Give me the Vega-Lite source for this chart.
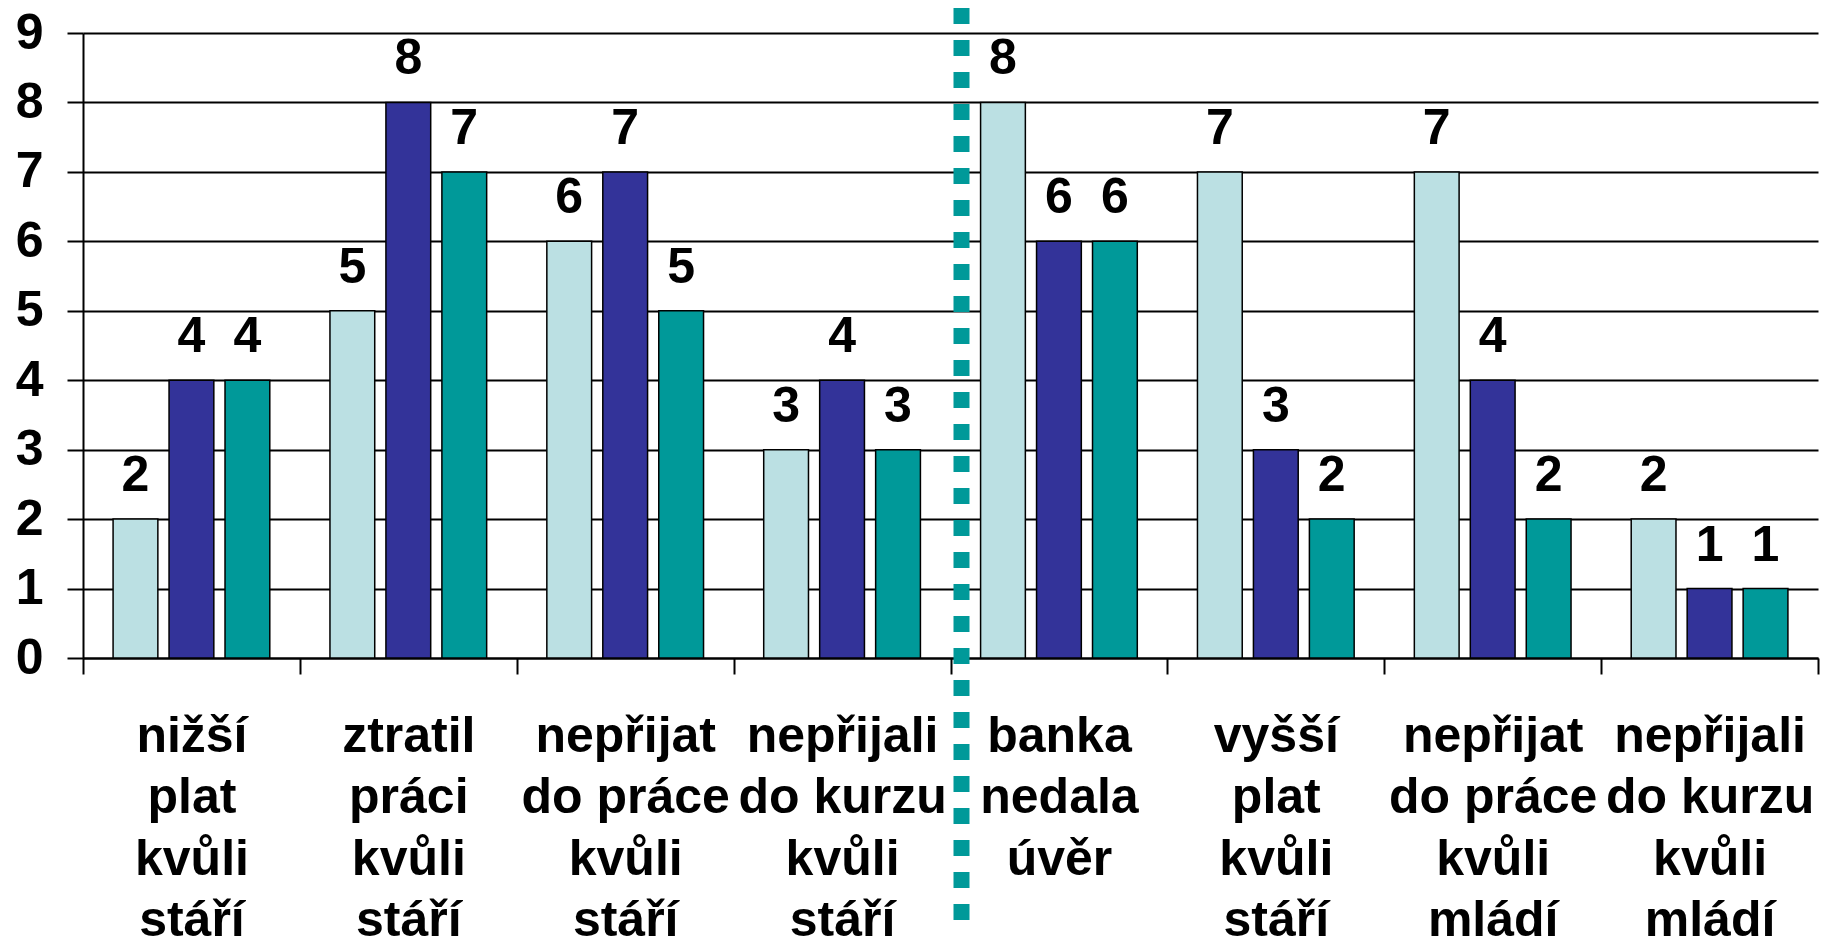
{
  "$schema": "https://vega.github.io/schema/vega-lite/v6.json",
  "width": 1735,
  "height": 625,
  "autosize": "none",
  "padding": {"left": 83, "top": 33, "right": 18, "bottom": 280},
  "background": "white",
  "config": {"view": {"stroke": null}, "font": "Liberation Sans"},
  "datasets": {
    "bars": [
      {"kategorie": "nižší|plat|kvůli|stáří", "skupina": "1", "pocet": 2},
      {"kategorie": "nižší|plat|kvůli|stáří", "skupina": "2", "pocet": 4},
      {"kategorie": "nižší|plat|kvůli|stáří", "skupina": "3", "pocet": 4},
      {"kategorie": "ztratil|práci|kvůli|stáří", "skupina": "1", "pocet": 5},
      {"kategorie": "ztratil|práci|kvůli|stáří", "skupina": "2", "pocet": 8},
      {"kategorie": "ztratil|práci|kvůli|stáří", "skupina": "3", "pocet": 7},
      {"kategorie": "nepřijat|do práce|kvůli|stáří", "skupina": "1", "pocet": 6},
      {"kategorie": "nepřijat|do práce|kvůli|stáří", "skupina": "2", "pocet": 7},
      {"kategorie": "nepřijat|do práce|kvůli|stáří", "skupina": "3", "pocet": 5},
      {"kategorie": "nepřijali|do kurzu|kvůli|stáří", "skupina": "1", "pocet": 3},
      {"kategorie": "nepřijali|do kurzu|kvůli|stáří", "skupina": "2", "pocet": 4},
      {"kategorie": "nepřijali|do kurzu|kvůli|stáří", "skupina": "3", "pocet": 3},
      {"kategorie": "banka|nedala|úvěr", "skupina": "1", "pocet": 8},
      {"kategorie": "banka|nedala|úvěr", "skupina": "2", "pocet": 6},
      {"kategorie": "banka|nedala|úvěr", "skupina": "3", "pocet": 6},
      {"kategorie": "vyšší|plat|kvůli|stáří", "skupina": "1", "pocet": 7},
      {"kategorie": "vyšší|plat|kvůli|stáří", "skupina": "2", "pocet": 3},
      {"kategorie": "vyšší|plat|kvůli|stáří", "skupina": "3", "pocet": 2},
      {"kategorie": "nepřijat|do práce|kvůli|mládí", "skupina": "1", "pocet": 7},
      {"kategorie": "nepřijat|do práce|kvůli|mládí", "skupina": "2", "pocet": 4},
      {"kategorie": "nepřijat|do práce|kvůli|mládí", "skupina": "3", "pocet": 2},
      {"kategorie": "nepřijali|do kurzu|kvůli|mládí", "skupina": "1", "pocet": 2},
      {"kategorie": "nepřijali|do kurzu|kvůli|mládí", "skupina": "2", "pocet": 1},
      {"kategorie": "nepřijali|do kurzu|kvůli|mládí", "skupina": "3", "pocet": 1}
    ],
    "divider": [
      {"kategorie": "banka|nedala|úvěr", "horni": 9.36, "dolni": -3.9}
    ]
  },
  "layer": [
    {
      "data": {"name": "bars"},
      "mark": {"type": "bar", "stroke": "black", "strokeWidth": 1.5},
      "encoding": {
        "x": {
          "field": "kategorie", "type": "nominal",
          "sort": ["nižší|plat|kvůli|stáří", "ztratil|práci|kvůli|stáří", "nepřijat|do práce|kvůli|stáří", "nepřijali|do kurzu|kvůli|stáří", "banka|nedala|úvěr", "vyšší|plat|kvůli|stáří", "nepřijat|do práce|kvůli|mládí", "nepřijali|do kurzu|kvůli|mládí"],
          "scale": {"paddingInner": 0, "paddingOuter": 0},
          "axis": {
            "title": null, "labelAngle": 0,
            "labelExpr": "isValid(datum.value) ? split(datum.value, '|') : ''",
            "labelFontSize": 50, "labelFontWeight": "bold", "labelColor": "black",
            "labelPadding": 37, "labelLineHeight": 61.5, "labelLimit": 0,
            "labelBaseline": "top",
            "domainColor": "black", "domainWidth": 2,
            "tickBand": "extent", "tickSize": 16, "tickColor": "black", "tickWidth": 2,
            "grid": false
          }
        },
        "xOffset": {"field": "skupina", "type": "nominal", "scale": {"paddingInner": 0.2, "paddingOuter": 0.5375}},
        "y": {
          "field": "pocet", "type": "quantitative",
          "scale": {"domain": [0, 9], "nice": false},
          "axis": {
            "title": null, "values": [0, 1, 2, 3, 4, 5, 6, 7, 8, 9], "format": "d",
            "labelFontSize": 50, "labelFontWeight": "bold", "labelColor": "black",
            "labelPadding": 24,
            "tickSize": 16, "tickColor": "black", "tickWidth": 2,
            "domainColor": "black", "domainWidth": 2,
            "grid": true, "gridColor": "black", "gridWidth": 2, "gridOpacity": 1
          }
        },
        "color": {
          "field": "skupina", "type": "nominal",
          "scale": {"domain": ["1", "2", "3"], "range": ["#BBE0E3", "#333399", "#009999"]},
          "legend": null
        }
      }
    },
    {
      "data": {"name": "bars"},
      "mark": {"type": "text", "fontSize": 50, "fontWeight": "bold", "color": "black", "baseline": "alphabetic", "dy": -28},
      "encoding": {
        "x": {
          "field": "kategorie", "type": "nominal",
          "sort": ["nižší|plat|kvůli|stáří", "ztratil|práci|kvůli|stáří", "nepřijat|do práce|kvůli|stáří", "nepřijali|do kurzu|kvůli|stáří", "banka|nedala|úvěr", "vyšší|plat|kvůli|stáří", "nepřijat|do práce|kvůli|mládí", "nepřijali|do kurzu|kvůli|mládí"]
        },
        "xOffset": {"field": "skupina", "type": "nominal"},
        "y": {"field": "pocet", "type": "quantitative", "scale": {"domain": [0, 9], "nice": false}},
        "text": {"field": "pocet", "type": "quantitative"}
      }
    },
    {
      "data": {"name": "divider"},
      "mark": {"type": "rule", "color": "#009999", "strokeWidth": 16, "strokeDash": [16, 16], "strokeCap": "butt", "clip": false, "xOffset": 11},
      "encoding": {
        "x": {
          "field": "kategorie", "type": "nominal", "bandPosition": 0,
          "sort": ["nižší|plat|kvůli|stáří", "ztratil|práci|kvůli|stáří", "nepřijat|do práce|kvůli|stáří", "nepřijali|do kurzu|kvůli|stáří", "banka|nedala|úvěr", "vyšší|plat|kvůli|stáří", "nepřijat|do práce|kvůli|mládí", "nepřijali|do kurzu|kvůli|mládí"]
        },
        "y": {"field": "horni", "type": "quantitative", "scale": {"domain": [0, 9], "nice": false}},
        "y2": {"field": "dolni"}
      }
    }
  ]
}
